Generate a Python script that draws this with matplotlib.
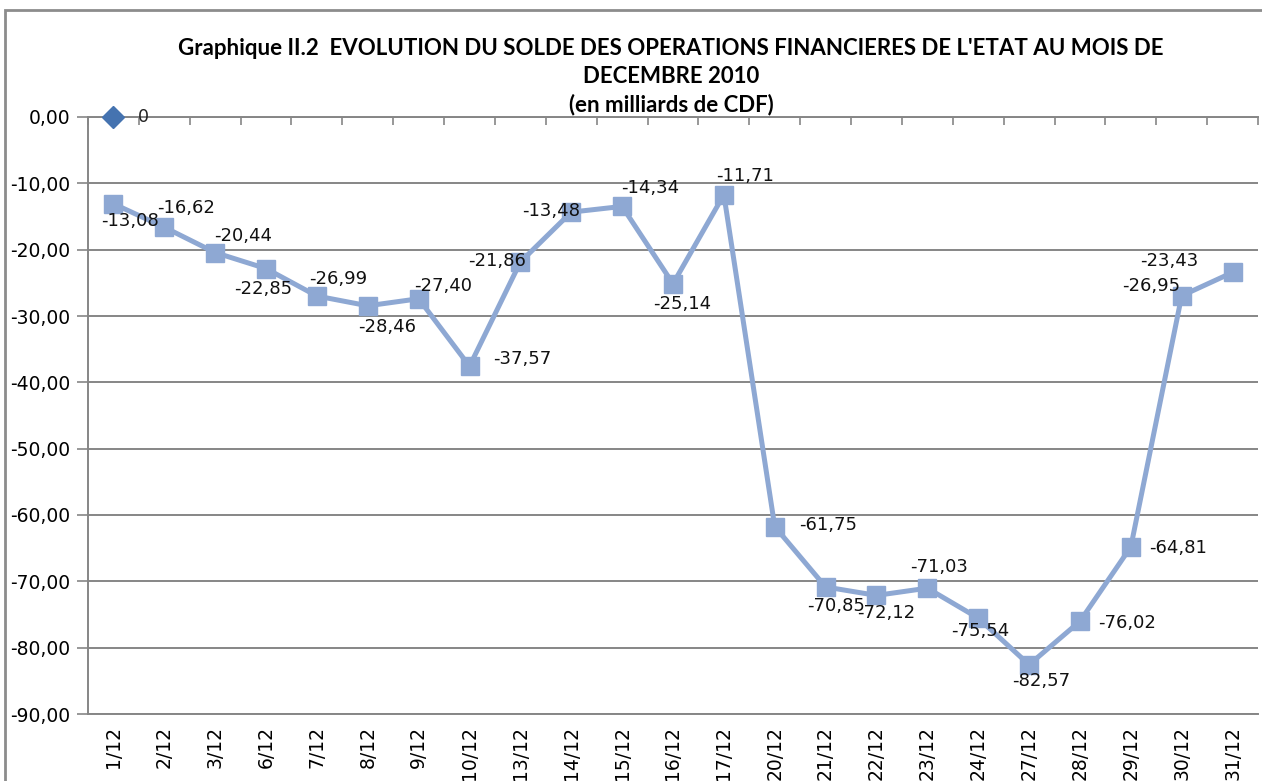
import matplotlib

matplotlib.use("Agg")
import matplotlib.pyplot as plt
from matplotlib.patches import Rectangle

# data (milliards de CDF)
dates = ["1/12", "2/12", "3/12", "6/12", "7/12", "8/12", "9/12", "10/12",
         "13/12", "14/12", "15/12", "16/12", "17/12", "20/12", "21/12",
         "22/12", "23/12", "24/12", "27/12", "28/12", "29/12", "30/12", "31/12"]
solde = [-13.08, -16.62, -20.44, -22.85, -26.99, -28.46, -27.40, -37.57,
         -21.86, -14.34, -13.48, -25.14, -11.71, -61.75, -70.85,
         -72.12, -71.03, -75.54, -82.57, -76.02, -64.81, -26.95, -23.43]
# the data labels as printed in the source (14/12 and 15/12 appear swapped there)
solde_labels = ["-13,08", "-16,62", "-20,44", "-22,85", "-26,99", "-28,46", "-27,40",
                "-37,57", "-21,86", "-13,48", "-14,34", "-25,14", "-11,71", "-61,75",
                "-70,85", "-72,12", "-71,03", "-75,54", "-82,57", "-76,02", "-64,81",
                "-26,95", "-23,43"]
zero_series = [0.0]
y_ticks = [0, -10, -20, -30, -40, -50, -60, -70, -80, -90]

# label placement in pixels relative to each point (x right, y up)
label_offsets = [(17, -17), (22, 19), (28, 17), (-3, -20), (21, 17), (19, -21),
                 (24, 13), (53, 7), (-23, 1), (-20, 1), (28, 18), (9, -20),
                 (21, 19), (53, 2), (10, -19), (10, -18), (12, 21), (2, -13),
                 (12, -16), (47, -2), (47, -1), (-31, 10), (-63, 11)]

LINE = "#8EA8D3"
GRID = "#868686"

fig = plt.figure(figsize=(12.62, 7.81), dpi=100)
ax = fig.add_axes([88 / 1262, 1 - 714 / 781, 1170 / 1262, 597 / 781])

x = list(range(len(dates)))
ax.plot(x, solde, color=LINE, lw=3.6, marker="s", ms=13.5,
        mfc=LINE, mec=LINE, zorder=3, clip_on=False)
ax.plot([0], zero_series, ls="none", marker="D", ms=11.5, color="#4573B0",
        zorder=4, clip_on=False)
ax.annotate("0", (0, zero_series[0]), xytext=(30, 0), textcoords="offset pixels",
            ha="center", va="center", fontsize=12.5, color="#222222")

for xi, v, lab, off in zip(x, solde, solde_labels, label_offsets):
    ax.annotate(lab, (xi, v), xytext=off, textcoords="offset pixels",
                ha="center", va="center", fontsize=13, color="#111111", zorder=5)

ax.set_xlim(-0.5, len(dates) - 0.5)
ax.set_ylim(-90, 0)
ax.set_yticks(y_ticks)
ax.set_yticklabels([f"{t:.2f}".replace(".", ",") for t in y_ticks], fontsize=13.5)
ax.yaxis.grid(True, color=GRID, lw=1.4)
ax.set_axisbelow(True)

ax.set_xticks(x)
ax.set_xticklabels(dates, rotation=90, fontsize=13.5, va="top")
ax.set_xticks([i - 0.5 for i in range(len(dates) + 1)], minor=True)
ax.tick_params(axis="x", which="major", length=0, pad=9, bottom=True, top=False)
ax.tick_params(axis="x", which="minor", bottom=False, top=True, direction="in",
               length=6, color=GRID, width=1.2)
ax.tick_params(axis="y", length=8, color=GRID, width=1.2, pad=5)

for side in ("left", "top", "bottom"):
    ax.spines[side].set_color(GRID)
    ax.spines[side].set_linewidth(1.4)
ax.spines["right"].set_visible(False)

fig.text(671 / 1262, 1 - 77 / 781,
         "Graphique II.2  EVOLUTION DU SOLDE DES OPERATIONS FINANCIERES DE L'ETAT AU MOIS DE\n"
         "DECEMBRE 2010\n(en milliards de CDF)",
         ha="center", va="center", ma="center", fontsize=16, fontweight="bold",
         family="Lato", linespacing=1.4)

fig.patches.append(Rectangle((5 / 1262, -0.1), 1.2, 1.1 - 10 / 781,
                             transform=fig.transFigure, fill=False,
                             ec="#8C8C8C", lw=2))

fig.savefig("out.png", dpi=100)
